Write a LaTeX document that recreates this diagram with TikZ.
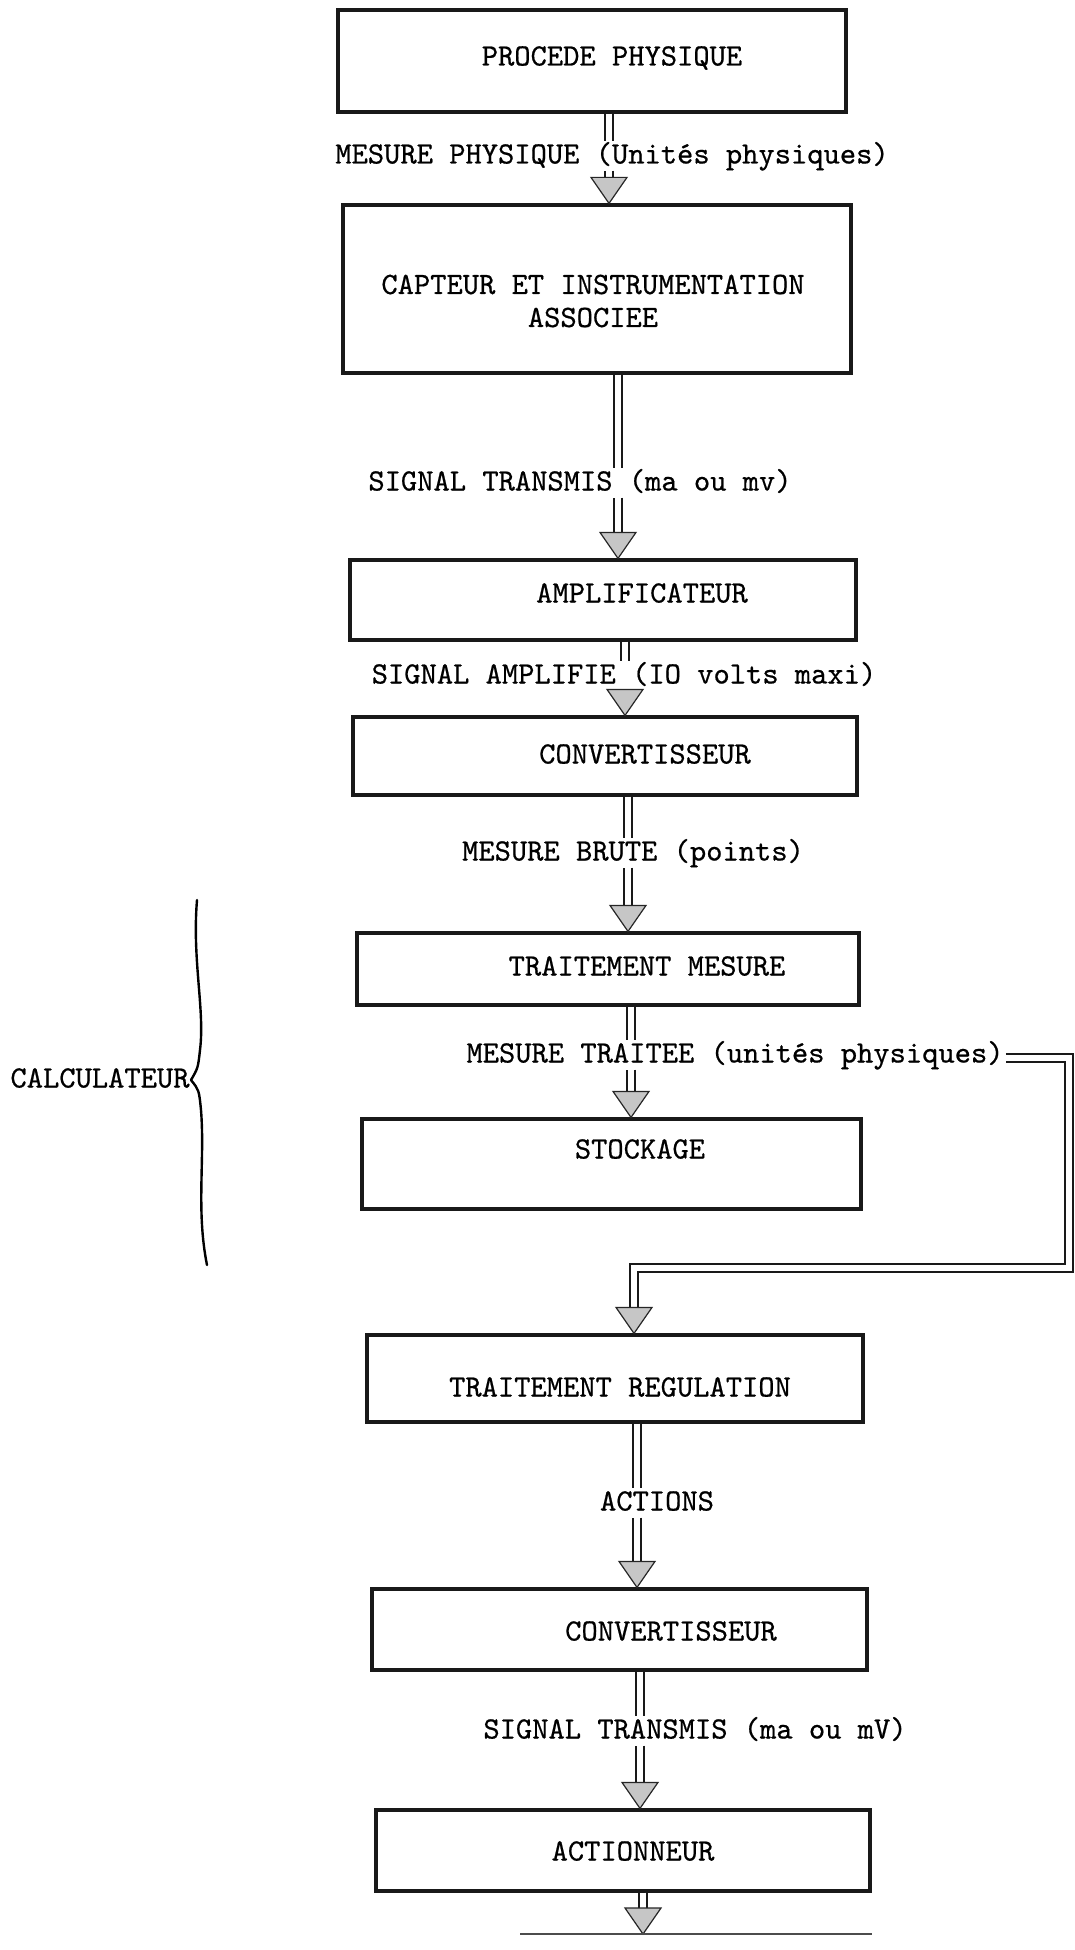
\documentclass[tikz,border=0pt]{standalone}
\usepackage{fontspec}
\newfontfamily\tyfam{lmmono10-regular}[Extension=.otf, FakeBold=0.6]
\newcommand\tyf{\fontsize{31}{33}\selectfont\tyfam}
\newcommand\ahead[1]{\filldraw[headst] (#1) -- ++(-18,-26) -- ++(36,0) -- cycle;}
\begin{document}
\begin{tikzpicture}[x=1pt,y=-1pt,
  box/.style={draw=black!90, line width=3.2pt, inner sep=0pt},
  txt/.style={font=\tyf, inner sep=0pt, text height=22pt, text depth=7pt},
  dbl/.style={draw=black!90, line width=2pt, double=white, double distance=5.5pt, line join=miter},
  headst/.style={draw=black!85, line width=1.2pt, fill=gray!45, line join=miter}]
\useasboundingbox (0,0) rectangle (1075,1950);

% boxes
\node[box, minimum width=508pt, minimum height=102pt] (b1) at (592,61) {};
\node[box, minimum width=508pt, minimum height=168pt] (b2) at (597,289) {};
\node[box, minimum width=506pt, minimum height=80pt] (b3) at (603,600) {};
\node[box, minimum width=504pt, minimum height=78pt] (b4) at (605,756) {};
\node[box, minimum width=502pt, minimum height=72pt] (b5) at (608,969) {};
\node[box, minimum width=499pt, minimum height=90pt] (b6) at (611.5,1164) {};
\node[box, minimum width=496pt, minimum height=87pt] (b7) at (615,1378.5) {};
\node[box, minimum width=495pt, minimum height=81pt] (b8) at (619.5,1629.5) {};
\node[box, minimum width=494pt, minimum height=81pt] (b9) at (623,1850.5) {};

% box texts
\node[txt] (tx1) at (612,58) {PROCEDE PHYSIQUE};
\node[font=\tyf, inner sep=0pt, align=center] (tx2) at (593,301) {CAPTEUR ET INSTRUMENTATION\\ASSOCIEE};
\node[txt] (tx3) at (642,595) {AMPLIFICATEUR};
\node[txt] (tx4) at (645,756) {CONVERTISSEUR};
\node[txt] (tx5) at (647,968) {TRAITEMENT MESURE};
\node[txt] (tx6) at (640,1151) {STOCKAGE};
\node[txt] (tx7) at (620,1389) {TRAITEMENT REGULATION};
\node[txt] (tx8) at (671,1633) {CONVERTISSEUR};
\node[txt] (tx9) at (633,1853) {ACTIONNEUR};

% labels
\node[txt] (l1) at (612,156) {MESURE PHYSIQUE (Unités physiques)};
\node[txt] (l2) at (580,483) {SIGNAL TRANSMIS (ma ou mv)};
\node[txt] (l3) at (624,676) {SIGNAL AMPLIFIE (IO volts maxi)};
\node[txt] (l4) at (633,853) {MESURE BRUTE (points)};
\node[txt] (l5) at (735,1055) {MESURE TRAITEE (unités physiques)};
\node[txt] (l6) at (657,1503) {ACTIONS};
\node[txt] (l7) at (695,1731) {SIGNAL TRANSMIS (ma ou mV)};
\node[txt] (calc) at (100,1080) {CALCULATEUR};

% arrow columns
\coordinate (x1) at (609,0);
\coordinate (x2) at (618,0);
\coordinate (x3) at (625,0);
\coordinate (x4) at (628,0);
\coordinate (x5) at (631,0);
\coordinate (x6) at (634,0);
\coordinate (x7) at (637,0);
\coordinate (x8) at (640,0);
\coordinate (x9) at (643,0);

% tips
\coordinate (t2) at (b2.north -| x1);
\coordinate (t3) at (b3.north -| x2);
\coordinate (t4) at (b4.north -| x3);
\coordinate (t5) at (b5.north -| x4);
\coordinate (t6) at (b6.north -| x5);
\coordinate (t7) at (b7.north -| x6);
\coordinate (t8) at (b8.north -| x7);
\coordinate (t9) at (b9.north -| x8);
\coordinate (t10) at (643,1934);
\coordinate (c10a) at (520,1934);
\coordinate (c10b) at (872,1934);

% head tops
\coordinate (h2) at ([yshift=26pt]t2);
\coordinate (h3) at ([yshift=26pt]t3);
\coordinate (h4) at ([yshift=26pt]t4);
\coordinate (h5) at ([yshift=26pt]t5);
\coordinate (h6) at ([yshift=26pt]t6);
\coordinate (h7) at ([yshift=26pt]t7);
\coordinate (h8) at ([yshift=26pt]t8);
\coordinate (h9) at ([yshift=26pt]t9);
\coordinate (h10) at ([yshift=26pt]t10);

% connectors
\draw[dbl] (b1.south -| x1) -- (l1.north -| x1);
\draw[dbl] (l1.south -| x1) -- (h2);
\ahead{t2}

\draw[dbl] (b2.south -| x2) -- (l2.north -| x2);
\draw[dbl] (l2.south -| x2) -- (h3);
\ahead{t3}

\draw[dbl] (b3.south -| x3) -- (l3.north -| x3);
\ahead{t4}

\draw[dbl] (b4.south -| x4) -- (l4.north -| x4);
\draw[dbl] (l4.south -| x4) -- (h5);
\ahead{t5}

\draw[dbl] (b5.south -| x5) -- (l5.north -| x5);
\draw[dbl] (l5.south -| x5) -- (h6);
\ahead{t6}

% feedback loop
\coordinate (fb0) at ([xshift=2pt,yshift=-3pt]l5.east);
\coordinate (fbR) at (1069,1268);
\draw[dbl] (fb0) -| (fbR) -| (h7);
\ahead{t7}

\draw[dbl] (b7.south -| x7) -- (l6.north -| x7);
\draw[dbl] (l6.south -| x7) -- (h8);
\ahead{t8}

\draw[dbl] (b8.south -| x8) -- (l7.north -| x8);
\draw[dbl] (l7.south -| x8) -- (h9);
\ahead{t9}

\draw[dbl] (b9.south -| x9) -- (h10);
\ahead{t10}
\draw[draw=black!70, line width=2pt] (c10a) -- (c10b);

% brace
\draw[line width=2.4pt, line cap=round] (197,900) .. controls (192,960) and (205,1010) .. (200,1050) .. controls (198,1068) .. (191,1080);
\draw[line width=2.4pt, line cap=round] (191,1080) .. controls (199,1090) .. (201,1110) .. controls (205,1160) and (196,1210) .. (207,1265);
\end{tikzpicture}
\end{document}
